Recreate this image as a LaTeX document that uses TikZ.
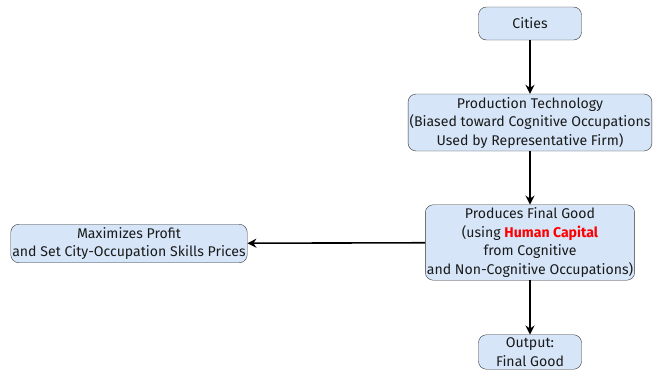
\documentclass[tikz,border=0pt]{standalone}
\usepackage{fontspec}
\setmainfont{Fira Sans}
\usetikzlibrary{arrows.meta,positioning}
\definecolor{boxfill}{HTML}{D6E6F8}
\definecolor{boxline}{HTML}{333333}
\definecolor{txt}{HTML}{1A1A1A}
\tikzset{stagebox/.style={draw=boxline,fill=boxfill,rounded corners=8pt,align=center,text=txt,
  inner xsep=1.5pt,inner ysep=3pt,minimum width=103pt,font=\fontsize{14.1}{18.5}\selectfont},
  flow/.style={-{Stealth[length=9pt,width=9pt,inset=3pt]},line width=1.6pt}}

\begin{document}
\begin{tikzpicture}[x=1pt,y=-1pt]
\useasboundingbox(0,0)rectangle(655,370);
\node[stagebox,minimum height=33pt](cities)at(530,23.5){Cities};
\node[stagebox](tech)at(530,122.5){Production Technology\\(Biased toward Cognitive Occupations\\Used by Representative Firm)};
\node[stagebox](prod)at(530,242.5){Produces Final Good\\(using \textcolor{red}{\textbf{Human Capital}}\\from Cognitive\\and Non-Cognitive Occupations)};
\node[stagebox](profit)at(129,243.5){Maximizes Profit\\and Set City-Occupation Skills Prices};
\node[stagebox](output)at(530,352){Output:\\Final Good};
\draw[flow](cities)--(tech);
\draw[flow](tech)--(prod);
\draw[flow](prod)--(profit);
\draw[flow](prod)--(output);
\end{tikzpicture}
\end{document}
